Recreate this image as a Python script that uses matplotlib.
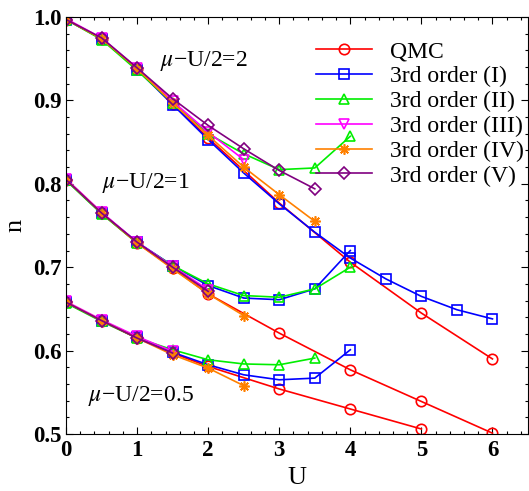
import matplotlib
matplotlib.use("Agg")
import matplotlib.pyplot as plt
from matplotlib.ticker import MultipleLocator, FormatStrFormatter, FuncFormatter

plt.rcParams['font.family'] = ['Liberation Serif', 'DejaVu Serif']
plt.rcParams['mathtext.fontset'] = 'stix'

labels = ['QMC', '3rd order (I)', '3rd order (II)', '3rd order (III)',
          '3rd order (IV)', '3rd order (V)']
colors = ['#ff0000', '#0000ff', '#00ee00', '#ff00ff', '#ff8000', '#800080']
markers = ['o', 's', '^', 'v', (8, 2, 0), 'D']

# mu - U/2 = 2
u_qmc_a = [0, 0.5, 1, 1.5, 2, 3, 4, 5, 6]
n_qmc_a = [0.997, 0.974, 0.938, 0.896, 0.855, 0.777, 0.706, 0.645, 0.590]
u_i_a = [0, 0.5, 1, 1.5, 2, 2.5, 3, 3.5, 4, 4.5, 5, 5.5, 6]
n_i_a = [0.997, 0.974, 0.937, 0.895, 0.853, 0.813, 0.776, 0.742, 0.711, 0.686, 0.665, 0.649, 0.638]
u_ii_a = [0, 0.5, 1, 1.5, 2, 2.5, 3, 3.5, 4]
n_ii_a = [0.997, 0.973, 0.936, 0.897, 0.860, 0.836, 0.817, 0.819, 0.857]
u_iii_a = [0, 0.5, 1, 1.5, 2, 2.5]
n_iii_a = [0.998, 0.975, 0.939, 0.899, 0.862, 0.829]
u_iv_a = [0, 0.5, 1, 1.5, 2, 2.5, 3, 3.5]
n_iv_a = [0.997, 0.974, 0.938, 0.897, 0.858, 0.820, 0.787, 0.755]
u_v_a = [0, 0.5, 1, 1.5, 2, 2.5, 3, 3.5]
n_v_a = [0.997, 0.975, 0.939, 0.902, 0.870, 0.842, 0.816, 0.794]

# mu - U/2 = 1
u_qmc_b = [0, 0.5, 1, 1.5, 2, 3, 4, 5, 6]
n_qmc_b = [0.805, 0.765, 0.729, 0.699, 0.668, 0.621, 0.577, 0.539, 0.501]
u_i_b = [0, 0.5, 1, 1.5, 2, 2.5, 3, 3.5, 4]
n_i_b = [0.805, 0.765, 0.730, 0.702, 0.678, 0.663, 0.661, 0.674, 0.720]
u_ii_b = [0, 0.5, 1, 1.5, 2, 2.5, 3, 3.5, 4]
n_ii_b = [0.804, 0.764, 0.729, 0.702, 0.680, 0.666, 0.664, 0.674, 0.700]
u_iii_b = [0, 0.5, 1, 1.5, 2]
n_iii_b = [0.806, 0.766, 0.730, 0.701, 0.673]
u_iv_b = [0, 0.5, 1, 1.5, 2, 2.5]
n_iv_b = [0.805, 0.765, 0.729, 0.698, 0.668, 0.642]
u_v_b = [0, 0.5, 1, 1.5, 2]
n_v_b = [0.805, 0.765, 0.730, 0.700, 0.671]

# mu - U/2 = 0.5
u_qmc_c = [0, 0.5, 1, 1.5, 2, 3, 4, 5]
n_qmc_c = [0.658, 0.636, 0.615, 0.597, 0.581, 0.554, 0.530, 0.506]
u_i_c = [0, 0.5, 1, 1.5, 2, 2.5, 3, 3.5, 4]
n_i_c = [0.658, 0.636, 0.616, 0.598, 0.583, 0.571, 0.565, 0.567, 0.601]
u_ii_c = [0, 0.5, 1, 1.5, 2, 2.5, 3, 3.5]
n_ii_c = [0.657, 0.635, 0.615, 0.601, 0.589, 0.584, 0.583, 0.591]
u_iii_c = [0, 0.5, 1, 1.5]
n_iii_c = [0.659, 0.637, 0.617, 0.599]
u_iv_c = [0, 0.5, 1, 1.5, 2, 2.5]
n_iv_c = [0.658, 0.636, 0.615, 0.595, 0.579, 0.558]
u_v_c = [0, 0.5, 1, 1.5]
n_v_c = [0.658, 0.636, 0.615, 0.597]

groups = [
    [(u_qmc_a, n_qmc_a), (u_i_a, n_i_a), (u_ii_a, n_ii_a), (u_iii_a, n_iii_a), (u_iv_a, n_iv_a), (u_v_a, n_v_a)],
    [(u_qmc_b, n_qmc_b), (u_i_b, n_i_b), (u_ii_b, n_ii_b), (u_iii_b, n_iii_b), (u_iv_b, n_iv_b), (u_v_b, n_v_b)],
    [(u_qmc_c, n_qmc_c), (u_i_c, n_i_c), (u_ii_c, n_ii_c), (u_iii_c, n_iii_c), (u_iv_c, n_iv_c), (u_v_c, n_v_c)],
]

fig = plt.figure(figsize=(5.29, 4.91), dpi=100)
ax = fig.add_axes([66 / 529, 57 / 491, 462 / 529, 417 / 491])

for g, grp in enumerate(groups):
    for k, (u, n) in enumerate(grp):
        ax.plot(u, n, color=colors[k], marker=markers[k], mfc='none', mec=colors[k],
                ms=7.5 if k != 5 else 6, mew=1.2, lw=1.2,
                label=labels[k] if g == 0 else None)

ax.set_xlim(0, 6.5)
ax.set_ylim(0.5, 1.0)
ax.xaxis.set_major_locator(MultipleLocator(1))
ax.xaxis.set_minor_locator(MultipleLocator(0.2))
ax.yaxis.set_major_locator(MultipleLocator(0.1))
ax.yaxis.set_minor_locator(MultipleLocator(0.02))
ax.tick_params(which='both', direction='in', top=True, right=True, labelsize=16.5)
ax.tick_params(which='major', length=5, width=0.8)
ax.tick_params(which='minor', length=2.5, width=0.8)
ax.tick_params(axis='x', pad=4)
ax.tick_params(axis='y', pad=3)
ax.xaxis.set_major_formatter(FuncFormatter(lambda v, p: '%d' % v))
ax.yaxis.set_major_formatter(FormatStrFormatter('%.1f'))
for t in ax.get_yticklabels() + ax.get_xticklabels():
    t.set_fontweight('bold')

ax.set_xlabel('U', fontsize=19, labelpad=5)
ax.set_ylabel('n', fontsize=19, labelpad=5)

ax.text(1.32, 0.947, r'$\mu$' + '\u2212U/2=2', fontsize=17, va='center')
ax.text(0.5, 0.801, r'$\mu$' + '\u2212U/2=1', fontsize=17, va='center')
ax.text(0.31, 0.546, r'$\mu$' + '\u2212U/2=0.5', fontsize=17, va='center')

ax.legend(loc='upper left', bbox_to_anchor=(0.52, 0.965), frameon=False, fontsize=17,
          handlelength=2.4, handletextpad=0.75, labelspacing=0.14, borderaxespad=0)

fig.savefig('out.png', dpi=100)
